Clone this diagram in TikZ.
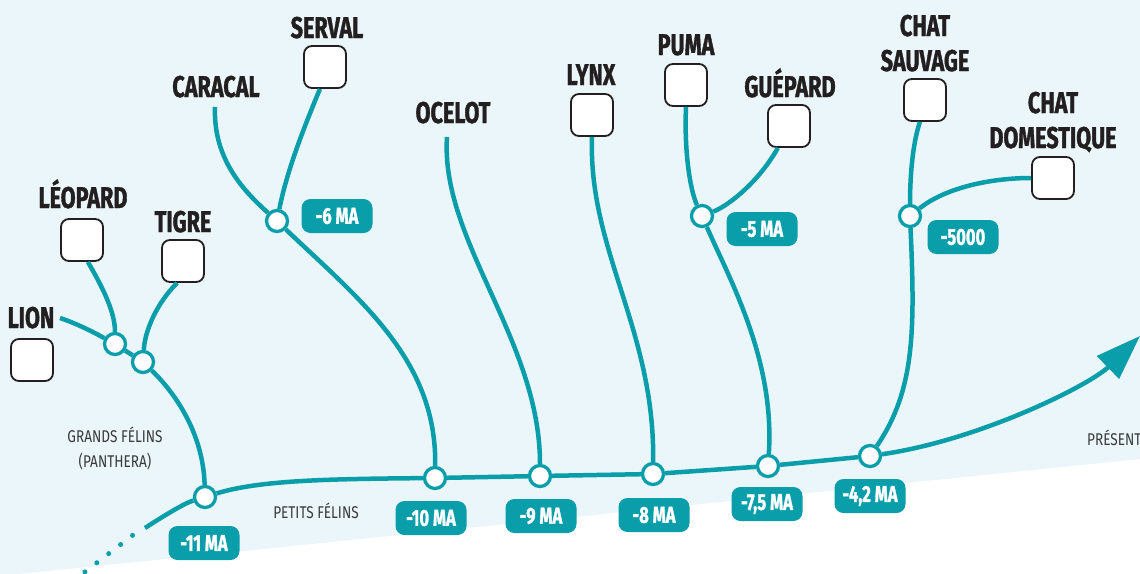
\documentclass[tikz,border=0pt]{standalone}
\usepackage{fontspec}
\usetikzlibrary{arrows.meta}
\newfontfamily\lblfont{Fira Sans}[FakeStretch=0.72,FakeBold=1.2]
\newfontfamily\thinfont{Fira Sans}[FakeStretch=0.8]
\definecolor{tealc}{HTML}{0A9DAA}
\definecolor{bgc}{HTML}{EAF6F9}
\definecolor{ink}{HTML}{231F20}
\definecolor{grayink}{HTML}{3A3A3A}
\begin{document}
\begin{tikzpicture}[x=1pt,y=-1pt,
 branch/.style={draw=tealc,line width=4.5pt},
 junction/.style={circle,draw=tealc,fill=white,line width=3.3pt,minimum size=21pt,inner sep=0pt},
 photo/.style={rectangle,rounded corners=8pt,draw=ink,fill=white,line width=1.8pt,minimum size=42pt,inner sep=0pt},
 taxon/.style={font=\lblfont\bfseries\fontsize{30}{35}\selectfont,text=ink,anchor=base,inner sep=0pt,align=center},
 agelabel/.style={fill=tealc,rounded corners=9pt,text=white,font=\lblfont\bfseries\fontsize{23}{24}\selectfont,minimum width=71pt,minimum height=34pt,inner sep=0pt},
 grouplabel/.style={font=\thinfont\fontsize{17}{25}\selectfont,text=grayink,inner sep=0pt,align=center,anchor=base}]
\useasboundingbox (0,0) rectangle (1140,573);
\fill[bgc] (0,0) -- (1140,0) -- (1140,459) -- (0,576) -- cycle;

% junctions
\node[junction] (n11) at (205,497) {};
\node[junction] (pB) at (143,362) {};
\node[junction] (pA) at (115,344) {};
\node[junction] (n10) at (435,478) {};
\node[junction] (n9) at (540,476) {};
\node[junction] (n8) at (653,474) {};
\node[junction] (n75) at (768,466) {};
\node[junction] (n42) at (870,456) {};
\node[junction] (c6) at (277,221) {};
\node[junction] (c5) at (702,216) {};
\node[junction] (c4) at (910,216) {};

% photo boxes
\node[photo] (leo) at (82,240) {};
\node[photo] (tig) at (183,261) {};
\node[photo] (lion) at (32,360) {};
\node[photo] (serv) at (325,67) {};
\node[photo] (lynx) at (592,115) {};
\node[photo] (puma) at (686,85) {};
\node[photo] (gue) at (789,126) {};
\node[photo] (sauv) at (925,100) {};
\node[photo] (dom) at (1053,178) {};

% free ends
\coordinate (tdot) at (73,581);
\coordinate (tdotend) at (133,535);
\coordinate (tstart) at (145,528);
\coordinate (tip) at (1140,336);
\coordinate (lionend) at (60,318);
\coordinate (caracalend) at (215,107);
\coordinate (ocelotend) at (447,137);

% timeline
\draw[tealc,line width=5pt,line cap=round,dash pattern=on 0pt off 15pt] (tdot) -- (tdotend);
\draw[branch] (tstart) .. controls (165,515) and (185,503) .. (n11);
\draw[branch] (n11) .. controls (260,480) and (330,479) .. (n10);
\draw[branch] (n10) -- (n9);
\draw[branch] (n9) -- (n8);
\draw[branch] (n8) -- (n75);
\draw[branch] (n75) -- (n42);
\draw[branch,-{Triangle[length=45pt,width=31pt]}] (n42) .. controls (980,440) and (1090,385) .. (tip);

% branches
\draw[branch] (n11) .. controls (203,430) and (172,390) .. (pB);
\draw[branch] (pB) -- (pA);
\draw[branch] (pA) .. controls (95,333) and (78,324) .. (lionend);
\draw[branch] (leo.-75) .. controls (103,288) and (115,312) .. (pA);
\draw[branch] (tig.-105) .. controls (157,303) and (145,330) .. (pB);
\draw[branch] (caracalend) .. controls (213,160) and (245,192) .. (c6);
\draw[branch] (serv.-103) .. controls (305,125) and (287,170) .. (c6);
\draw[branch] (c6) .. controls (360,300) and (437,360) .. (n10);
\draw[branch] (ocelotend) .. controls (440,240) and (540,340) .. (n9);
\draw[branch] (lynx.south) .. controls (588,250) and (655,330) .. (n8);
\draw[branch] (puma.south) .. controls (684,150) and (690,190) .. (c5);
\draw[branch] (gue.-117) .. controls (760,180) and (730,205) .. (c5);
\draw[branch] (c5) .. controls (730,280) and (775,360) .. (n75);
\draw[branch] (sauv.-103) .. controls (912,145) and (910,180) .. (c4);
\draw[branch] (dom.west) .. controls (990,178) and (945,188) .. (c4);
\draw[branch] (c4) .. controls (915,330) and (915,390) .. (n42);

% names
\node[taxon] (tleo) at (83,208) {LÉOPARD};
\node[taxon] (ttig) at (183,232) {TIGRE};
\node[taxon] (tlion) at (31,328) {LION};
\node[taxon] (tserv) at (327,38) {SERVAL};
\node[taxon] (tcar) at (216,97) {CARACAL};
\node[taxon] (toce) at (453,123) {OCELOT};
\node[taxon] (tlynx) at (591,85) {LYNX};
\node[taxon] (tpuma) at (686,55) {PUMA};
\node[taxon] (tgue) at (790,97) {GUÉPARD};
\node[taxon] (tsauv) at (925,71) {CHAT\\SAUVAGE};
\node[taxon] (tdom) at (1053,148) {CHAT\\DOMESTIQUE};

% ages
\node[agelabel] (a11) at (204,543) {-11 MA};
\node[agelabel] (a10) at (431,518) {-10 MA};
\node[agelabel] (a9) at (541,516) {-9 MA};
\node[agelabel] (a8) at (654,515) {-8 MA};
\node[agelabel] (a75) at (767,504) {-7,5 MA};
\node[agelabel] (a42) at (870,496) {-4,2 MA};
\node[agelabel] (a6) at (337,216) {-6 MA};
\node[agelabel] (a5) at (762,229) {-5 MA};
\node[agelabel] (a5000) at (963,237) {-5000};

% group notes
\node[grouplabel] (gf) at (115,467) {GRANDS FÉLINS\\(PANTHERA)};
\node[grouplabel] (pf) at (316,518) {PETITS FÉLINS};
\node[grouplabel,anchor=base west] (pres) at (1087,445) {PRÉSENT};
\end{tikzpicture}
\end{document}
